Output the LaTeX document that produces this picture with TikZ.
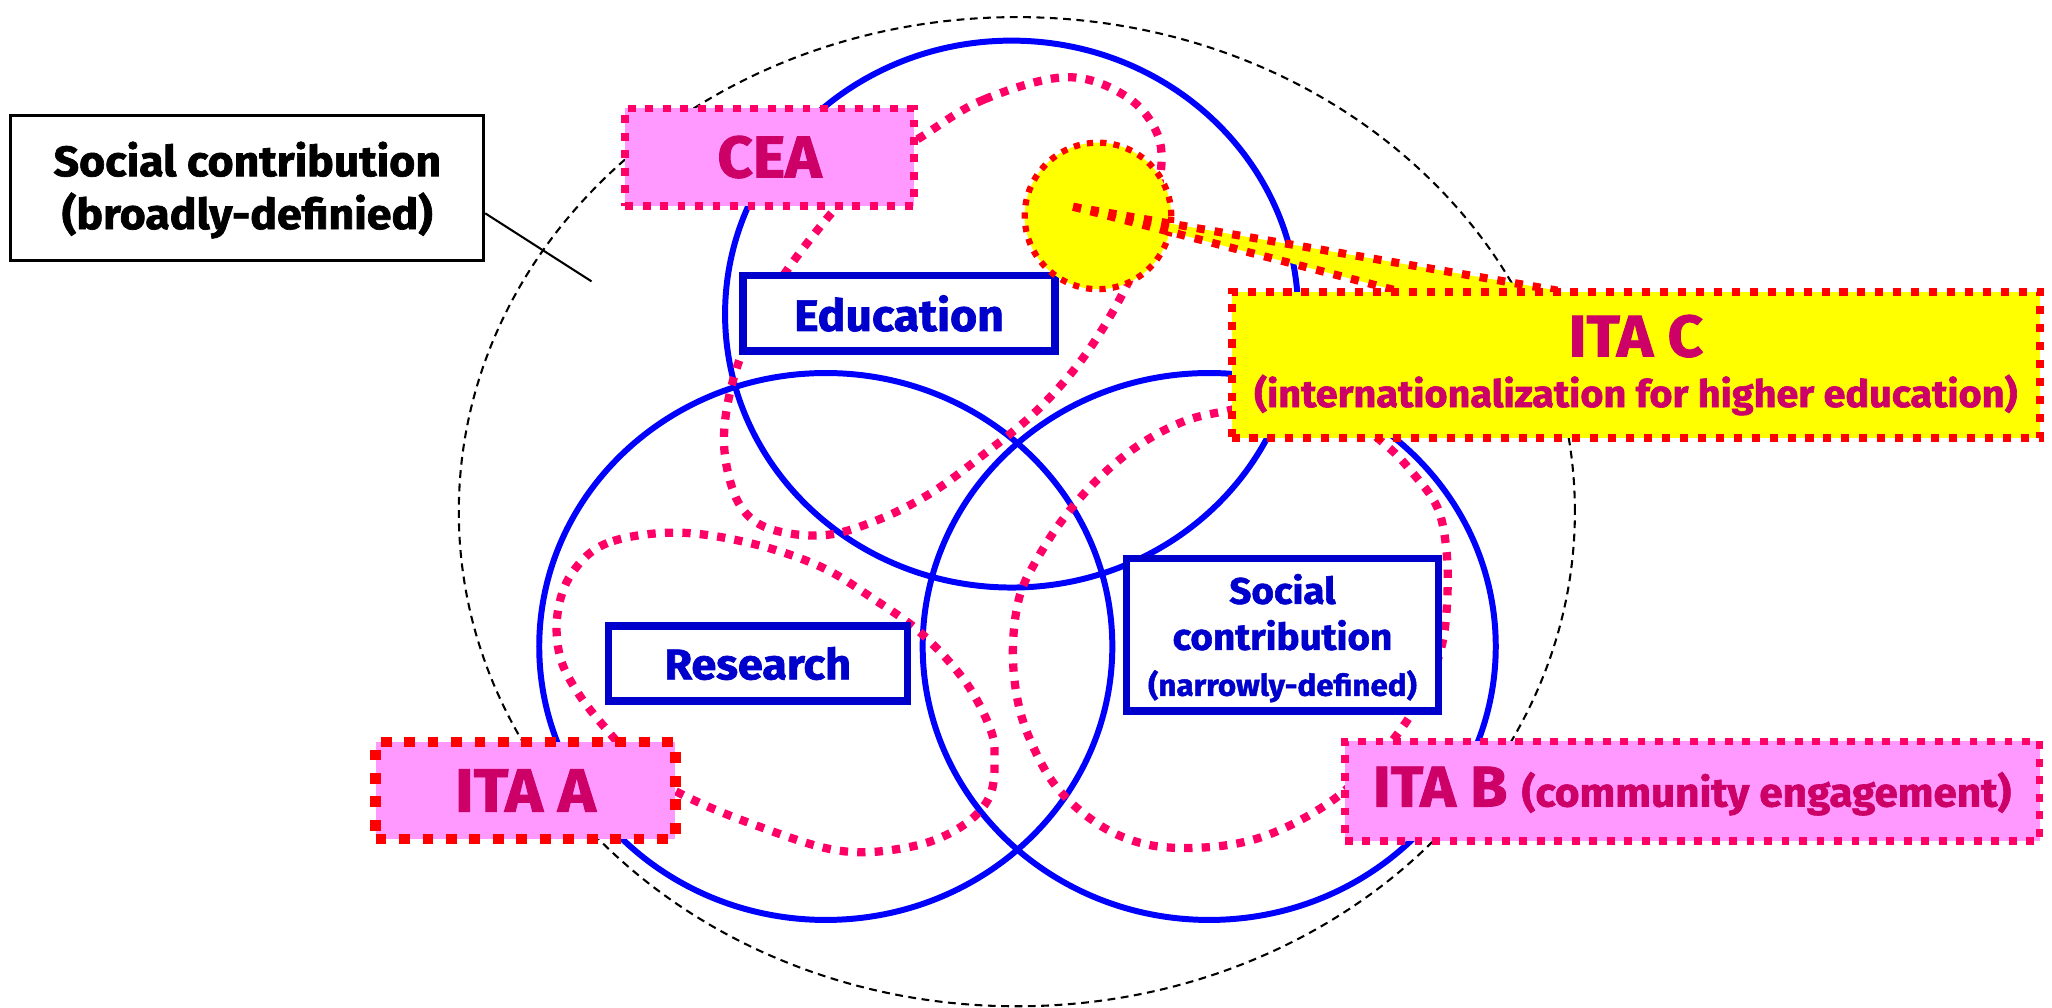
\documentclass[tikz,border=0pt]{standalone}
\usepackage{fontspec}
\setmainfont{Fira Sans}[FakeStretch=1.05, BoldFeatures={FakeBold=1.6}]
\definecolor{cblue}{HTML}{0000FF}
\definecolor{bblue}{HTML}{0000CC}
\definecolor{ppink}{HTML}{FF0066}
\definecolor{pfill}{HTML}{FF99FF}
\definecolor{ptext}{HTML}{CC0066}
\definecolor{cred}{HTML}{FF0000}
\definecolor{cyel}{HTML}{FFFF00}
\begin{document}
\begin{tikzpicture}[x=0.02cm,y=-0.02cm,
  circ/.style={draw=cblue,line width=2.6pt},
  outerline/.style={draw=black,line width=0.9pt,dash pattern=on 3.4pt off 2.4pt},
  blob/.style={draw=ppink,line width=3.6pt,dash pattern=on 3.6pt off 4.0pt},
  bluebox/.style={draw=bblue,fill=white,line width=3.2pt,text=bblue,inner sep=0pt,align=center},
  plainbox/.style={draw=black,fill=white,line width=1.2pt,text=black,inner sep=0pt,align=center},
  pinkbox/.style={fill=pfill,text=ptext,inner sep=0pt,align=center},
  pinkdots/.style={draw=ppink,line width=3.3pt,dash pattern=on 3.4pt off 4.2pt},
  reddots/.style={draw=cred,line width=3.5pt,dash pattern=on 3.5pt off 4.3pt},
  bigreddots/.style={draw=cred,line width=4.6pt,dash pattern=on 4.7pt off 5.5pt},
  smallreddots/.style={draw=cred,line width=2.7pt,dash pattern=on 2.7pt off 3.1pt},
]
\useasboundingbox (0,0) rectangle (1568,770);
\fill[white] (0,0) rectangle (1568,770);

% broad social contribution boundary
\draw[outerline] (777,391) ellipse [x radius=8.53cm, y radius=7.56cm];

% three blue circles
\draw[circ] (773,240) ellipse [x radius=4.38cm, y radius=4.18cm];
\draw[circ] (631,494) ellipse [x radius=4.38cm, y radius=4.18cm];
\draw[circ] (924,494) ellipse [x radius=4.38cm, y radius=4.18cm];

% dotted blobs
\draw[blob] plot[smooth cycle, tension=0.6] coordinates {
  (705,104) (752,76) (815,59) (861,74) (885,104) (886,140) (876,180) (858,224)
  (828,273) (792,314) (752,347) (711,377) (669,398) (629,409) (588,404)
  (566,387) (555,355) (554,322) (563,281) (580,242) (601,207) (637,161) (670,128)};
\draw[blob] plot[smooth cycle, tension=0.6] coordinates {
  (516,407) (464,415) (437,438) (426,469) (428,502) (442,530) (464,558)
  (490,586) (519,606) (573,629) (641,650) (696,647) (734,632) (756,609)
  (760,578) (756,555) (737,520) (704,484) (668,458) (627,433) (573,415)};
\draw[blob] plot[smooth cycle, tension=0.6] coordinates {
  (1060,341) (1080,362) (1098,387) (1105,418) (1106,455) (1102,492) (1090,525)
  (1070,558) (1045,587) (1019,611) (983,632) (948,644) (907,648) (871,644)
  (838,629) (807,601) (787,565) (777,532) (774,494) (779,456) (792,428)
  (812,397) (838,367) (869,341) (902,323) (932,315) (980,308) (1030,320)};

% inner boxes
\node[bluebox, minimum width=4.77cm, minimum height=1.15cm,
  font=\bfseries\fontsize{19.2}{22}\selectfont] (edu) at (687,239.5) {Education};
\node[bluebox, minimum width=4.57cm, minimum height=1.15cm,
  font=\bfseries\fontsize{18.6}{22}\selectfont] (res) at (579,507) {Research};
\node[bluebox, minimum width=4.77cm, minimum height=2.33cm,
  font=\bfseries\fontsize{16}{20}\selectfont] (soc) at (980,485)
  {\rule{0pt}{16pt}Social\\contribution\\{\fontsize{13}{20}\selectfont(narrowly-defined)}};

% broad label box and its pointer
\coordinate (bend) at (452,215);
\node[plainbox, minimum width=7.23cm, minimum height=2.22cm,
  font=\bfseries\fontsize{18.5}{23}\selectfont] (broad) at (189,143.5)
  {\rule{0pt}{17pt}Social contribution\\(broadly-definied)};
\draw[line width=0.9pt] (broad.east) ++(0,19.5) -- (bend);

% CEA and ITA boxes
\node[pinkbox, pinkdots, minimum width=4.41cm, minimum height=1.49cm,
  font=\bfseries\fontsize{25.5}{30}\selectfont] (cea) at (588,120) {CEA};
\node[pinkbox, bigreddots, minimum width=4.58cm, minimum height=1.48cm,
  font=\bfseries\fontsize{26.5}{30}\selectfont] (itaa) at (401.5,604) {ITA A};
\node[pinkbox, pinkdots, minimum width=10.62cm, minimum height=1.52cm,
  font=\bfseries\fontsize{25}{30}\selectfont] (itab) at (1293,604.5)
  {ITA B {\fontsize{17.5}{20}\selectfont(community engagement)}};

% ITA C callout
\node[fill=cyel, smallreddots, circle, minimum size=2.24cm, inner sep=0pt] (ycirc) at (839,165) {};
\coordinate (tip) at (820,158);
\coordinate (wa) at (1067,222);
\coordinate (wb) at (1190,222);
\fill[cyel] (tip) -- (wa) -- (1067,232) -- (1190,232) -- (wb) -- cycle;
\draw[reddots] (tip) -- (wa);
\draw[reddots] (tip) -- (wb);
\node[fill=cyel, reddots, text=ptext, inner sep=0pt, align=center,
  minimum width=12.36cm, minimum height=2.24cm,
  font=\bfseries\fontsize{25.5}{22}\selectfont] (itac) at (1250,279)
  {ITA C\\{\fontsize{16.4}{22}\selectfont(internationalization for higher education)}};
\end{tikzpicture}
\end{document}
